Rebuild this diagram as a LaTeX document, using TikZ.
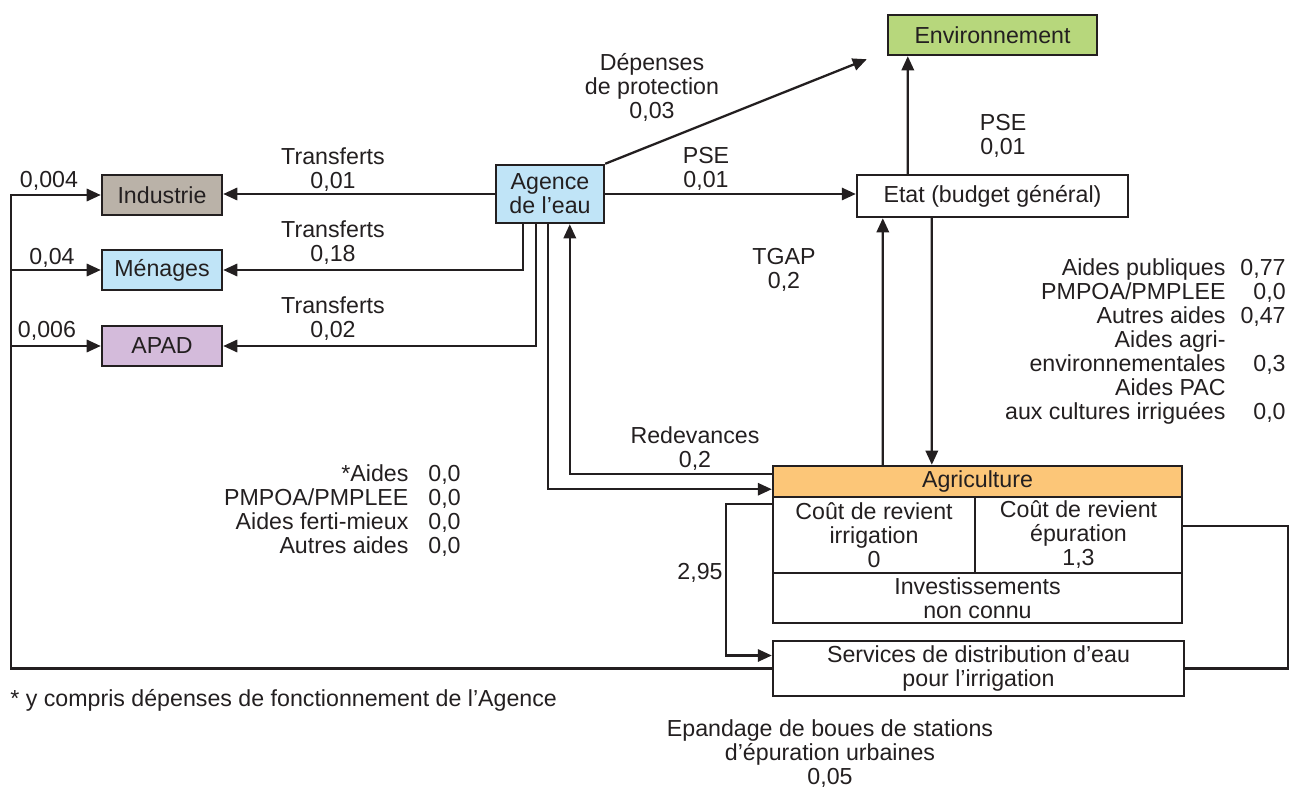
\documentclass[tikz,border=0pt]{standalone}
\usepackage{fontspec}
\setmainfont{Liberation Sans}
\usepackage{tikz}
\usetikzlibrary{arrows.meta, positioning, calc}
\usepackage{xcolor}
\definecolor{envgreen}{RGB}{183,215,124}
\definecolor{agencyblue}{RGB}{192,228,247}
\definecolor{industrygray}{RGB}{186,178,168}
\definecolor{apadpurple}{RGB}{212,187,219}
\definecolor{agriorange}{RGB}{252,198,120}
\definecolor{inkgray}{RGB}{35,31,32}

\begin{document}
\begin{tikzpicture}[
    x=0.02cm, y=-0.02cm,
    >={Triangle[length=8pt,width=7pt]},
    every node/.style={font=\fontsize{13.2}{13.66}\selectfont, text=inkgray},
    box/.style={rectangle, draw=inkgray, line width=1.4pt, inner sep=0pt,
        align=center},
    sectorbox/.style={box, minimum width=2.4cm, minimum height=0.8cm},
    arrow/.style={->, line width=1.3pt, draw=inkgray},
    link/.style={line width=1.3pt, draw=inkgray},
    flowlabel/.style={align=center, inner sep=0pt},
]
\useasboundingbox (0,0) rectangle (1293,790);

% === ACTORS ===
\node[sectorbox, fill=industrygray] (industrie) at (162,195) {Industrie};
\node[sectorbox, fill=agencyblue] (menages) at (162,270) {Ménages};
\node[sectorbox, fill=apadpurple] (apad) at (162,346) {APAD};
\node[box, fill=agencyblue, minimum width=2.16cm, minimum height=1.16cm] (agence) at (550,194) {Agence\\de l’eau};
\node[box, fill=envgreen, minimum width=4.18cm, minimum height=0.8cm] (env) at (992.5,35) {Environnement};
\node[box, fill=white, minimum width=5.42cm, minimum height=0.84cm] (etat) at (992.5,196) {Etat (budget général)};

% === AGRICULTURE ===
\node[box, fill=agriorange, minimum width=8.18cm, minimum height=0.62cm] (agri) at (977.5,481.5) {Agriculture};
\node[box, minimum width=4.04cm, minimum height=1.52cm] (costirr) at (874,535) {Coût de revient\\irrigation\\0};
\node[box, minimum width=4.14cm, minimum height=1.52cm] (costepu) at (1078.5,535) {Coût de revient\\épuration\\1,3};
\node[box, minimum width=8.18cm, minimum height=1.0cm] (invest) at (977.5,598) {Investissements\\non connu};
\node[box, minimum width=8.22cm, minimum height=1.1cm] (services) at (978.5,668.5) {Services de distribution d’eau\\pour l’irrigation};

% === ARROWS ===
% Agence to sectors
\draw[arrow] (agence.west) -- (agence.west -| industrie.east);
\draw[arrow] ($(agence.south west)+(28,0)$) |- (menages.east);
\draw[arrow] ($(agence.south west)+(41,0)$) |- (apad.east);
\draw[arrow] ($(agence.south west)+(53,0)$) |- ($(agri.south west)+(0,-9)$);

% Redevances back to Agence
\draw[arrow] ($(agri.north west)+(0,9)$) -| ($(agence.south west)+(75,0)$);

% Agence to Environnement and Etat
\draw[arrow] (agence.north east) -- ($(env.south west)+(-20,3)$);
\draw[arrow] (agence.east) -- (agence.east -| etat.west);

% Etat links
\draw[arrow] ($(etat.north west)+(52,0)$) -- ($(env.south west)+(21,0)$);
\draw[arrow] ($(agri.north west)+(111,0)$) -- ($(etat.south west)+(27,0)$);
\draw[arrow] ($(etat.south west)+(76,0)$) -- ($(agri.north west)+(160,0)$);

% Services back to sectors
\coordinate (busx) at ($(industrie.west)+(-90,0)$);
\draw[arrow] (services.west) -| (busx) -- (industrie.west);
\draw[arrow] (busx |- menages.west) -- (menages.west);
\draw[arrow] (busx |- apad.west) -- (apad.west);

% Agriculture to Services
\draw[arrow] ($(costirr.north west)+(0,8)$) -- ++(-46,0) |- ($(services.west)+(0,-13)$);
\draw[link] ($(costepu.east)+(0,-9)$) -- ++(105,0) |- (services.east);

% === LABELS ===
\node[flowlabel] at (333,170) {Transferts\\0,01};
\node[flowlabel] at (333,243) {Transferts\\0,18};
\node[flowlabel] at (333,319) {Transferts\\0,02};
\node[flowlabel] at (49,181) {0,004};
\node[flowlabel] at (52,258) {0,04};
\node[flowlabel] at (47,331) {0,006};
\node[flowlabel] at (652,87) {Dépenses\\de protection\\0,03};
\node[flowlabel] at (706,169) {PSE\\0,01};
\node[flowlabel] at (1003,136) {PSE\\0,01};
\node[flowlabel] at (784,270) {TGAP\\0,2};
\node[flowlabel] at (695,449) {Redevances\\0,2};
\node[flowlabel] at (700,573) {2,95};

% Aid tables
\node[flowlabel, anchor=north east] (aidespub) at (1286,258) {%
    \begin{tabular}{@{}r@{\hspace{0.3cm}}r@{}}
    Aides publiques & 0,77\\
    PMPOA/PMPLEE & 0,0\\
    Autres aides & 0,47\\
    Aides agri- & \\
    environnementales & 0,3\\
    Aides PAC & \\
    aux cultures irriguées & 0,0
    \end{tabular}};
\node[flowlabel, anchor=north east] (aidesagence) at (461,464) {%
    \begin{tabular}{@{}r@{\hspace{0.4cm}}r@{}}
    *Aides & 0,0\\
    PMPOA/PMPLEE & 0,0\\
    Aides ferti-mieux & 0,0\\
    Autres aides & 0,0
    \end{tabular}};

% Notes
\node[flowlabel, anchor=west] (footnote) at (10,700) {* y compris dépenses de fonctionnement de l’Agence};
\node[flowlabel] (epandage) at (830,754) {Epandage de boues de stations\\d’épuration urbaines\\0,05};

\end{tikzpicture}
\end{document}
